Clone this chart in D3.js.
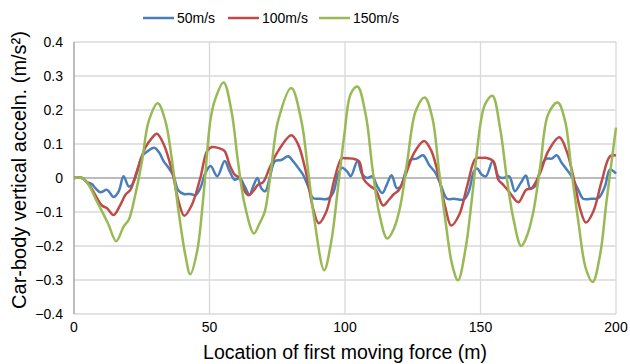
<!DOCTYPE html>
<html>
<head>
<meta charset="utf-8">
<script src="https://cdn.jsdelivr.net/npm/d3@7"></script>
<style>
  body { margin: 0; background: #fff; }
  text { font-family: "Liberation Sans", Arial, sans-serif; fill: #000; }
</style>
</head>
<body>
<svg width="630" height="364"></svg>
<script>
// series names and colours
var seriesNames = ["50m/s", "100m/s", "150m/s"];
var seriesColors = ["#4a7ebb", "#be4b48", "#98b954"];

// location (m) and acceleration (m/s^2) pairs
var v50 = [[0,0],[3,0],[4.8,-0.012],[6.6,-0.018],[7.9,-0.03],[9.7,-0.042],[12.2,-0.035],[14.6,-0.056],[16.5,-0.039],[18.3,0.005],[20.2,-0.025],[21.4,-0.02],[23.2,0.015],[25.1,0.064],[26.9,0.077],[29.6,0.089],[31.5,0.074],[33.1,0.049],[34.9,0.03],[36.8,0.005],[38.4,-0.035],[40.5,-0.047],[43,-0.047],[44.8,-0.051],[46.6,-0.03],[48.5,0.015],[50.4,0.035],[52.9,0.005],[55.6,0.05],[57.4,0.02],[59.3,-0.005],[61.1,0],[63,-0.025],[64.8,-0.049],[66.1,-0.025],[67.7,0],[69.1,-0.03],[70.6,-0.039],[72.2,0],[74.1,0.049],[76.5,0.053],[79,0.064],[80.9,0.049],[82.7,0.03],[84.5,0.01],[86.4,-0.025],[88.2,-0.059],[90.7,-0.061],[93.7,-0.061],[95.6,-0.044],[97.4,0.01],[98.9,0.03],[100.9,0.018],[102.1,0.005],[104.6,0.049],[106.4,0.01],[108.2,0],[110.1,0.005],[111.9,-0.025],[113.8,-0.044],[115.4,-0.02],[117.2,0.008],[119.1,-0.03],[120.5,-0.025],[122.4,0.02],[124.2,0.054],[126.4,0.057],[128.8,0.067],[131,0.039],[133.4,0.015],[135.3,-0.02],[137.7,-0.061],[140.2,-0.061],[143.9,-0.063],[145.7,-0.039],[147.6,0.02],[148.8,0.028],[150.4,0.01],[152,0.005],[154.5,0.049],[156.6,0.005],[158.4,0],[160.6,0.005],[162.7,-0.039],[164.8,-0.015],[166.8,0.007],[168.3,-0.03],[170.1,-0.025],[172.6,0.039],[174.4,0.057],[176.3,0.057],[178.1,0.067],[180,0.044],[181.8,0.025],[183.6,0.005],[186.1,-0.035],[187.9,-0.061],[191,-0.061],[193.5,-0.059],[195.9,-0.025],[197.8,0.025],[200,0.013]];

var v100 = [[0,0],[2.9,0],[6,-0.025],[8.5,-0.059],[10.3,-0.081],[12.2,-0.089],[14.6,-0.109],[17.1,-0.079],[19,-0.049],[20.8,-0.035],[23.2,0.02],[26.3,0.089],[28.8,0.118],[30.6,0.13],[33.1,0.099],[36.2,0.02],[38.6,-0.069],[40.7,-0.111],[43.5,-0.079],[46.6,0],[49.1,0.079],[50.9,0.091],[53.8,0.087],[55.6,0.079],[57.4,0.039],[59.3,0.01],[61.1,0],[63,-0.039],[64.5,-0.051],[66.1,-0.039],[67.9,-0.02],[69.8,-0.012],[72.2,0.03],[75.3,0.079],[80.2,0.126],[82.7,0.099],[85.8,0.01],[88.2,-0.089],[90.3,-0.133],[93.1,-0.099],[96.2,0],[98.7,0.057],[100.5,0.058],[102.7,0.057],[105.2,0.049],[107,-0.005],[109.5,-0.025],[111.3,-0.035],[114.1,-0.081],[116.2,-0.064],[118.1,-0.047],[119.9,-0.035],[122.4,0.01],[125.5,0.074],[129.2,0.109],[131.9,0.079],[134.7,0],[137.1,-0.089],[139.2,-0.14],[142.1,-0.109],[145.2,-0.02],[148.2,0.057],[150.7,0.059],[152.3,0.059],[154.8,0.049],[156.6,-0.005],[158.4,-0.02],[160.9,-0.044],[164,-0.071],[166.8,-0.035],[168.9,-0.03],[172,0.015],[175,0.079],[179.1,0.12],[181.8,0.079],[184.9,-0.02],[186.7,-0.089],[188.9,-0.131],[191.6,-0.099],[194.7,-0.01],[197.8,0.064],[200,0.066]];

var v150 = [[0,0],[3,0],[5.4,-0.02],[8.5,-0.07],[11.6,-0.118],[12.8,-0.138],[15.6,-0.186],[18.3,-0.143],[20.2,-0.123],[22.6,-0.05],[25.1,0.05],[27.6,0.168],[30.9,0.22],[33.7,0.168],[36.2,0.05],[38.6,-0.099],[41.1,-0.227],[42.9,-0.283],[45.4,-0.217],[47.8,-0.05],[50.3,0.168],[51.9,0.227],[55.2,0.281],[58.1,0.197],[60.5,0.049],[63,-0.079],[66.4,-0.163],[68.5,-0.133],[70.4,-0.099],[72.8,0.03],[75.3,0.168],[80.2,0.265],[83.9,0.168],[86.4,0.02],[88.8,-0.128],[92.3,-0.271],[94.9,-0.188],[97.4,-0.03],[99.8,0.13],[102.1,0.247],[104.6,0.269],[107.6,0.188],[110.1,0.03],[112.5,-0.099],[115.6,-0.178],[118.1,-0.148],[120.5,-0.079],[123,0.05],[126.1,0.197],[129.4,0.237],[132.2,0.178],[134.7,0.02],[137.1,-0.128],[139.6,-0.257],[141.7,-0.301],[144.5,-0.207],[147,-0.049],[150,0.16],[151.7,0.217],[154.4,0.242],[157.2,0.148],[159.7,0],[162.1,-0.118],[165,-0.2],[167,-0.173],[169.5,-0.099],[172,0.03],[175,0.188],[178.5,0.222],[181.2,0.168],[183.6,0.02],[186.1,-0.128],[188.9,-0.267],[191.4,-0.306],[194.1,-0.227],[196.5,-0.069],[200,0.148]];

var xTicks = [0, 50, 100, 150, 200];
var yTicks = [-0.4, -0.3, -0.2, -0.1, 0, 0.1, 0.2, 0.3, 0.4];

var svg = d3.select("svg");
var pLeft = 74, pRight = 616, pTop = 42, pBottom = 314;

var x = d3.scaleLinear().domain([0, 200]).range([pLeft, pRight]);
var y = d3.scaleLinear().domain([-0.4, 0.4]).range([pBottom, pTop]);

// gridlines
svg.append("g").selectAll("line")
    .data(yTicks.filter(function(d){ return d !== 0; }))
    .enter().append("line")
    .attr("x1", pLeft).attr("x2", pRight)
    .attr("y1", function(d){ return y(d); })
    .attr("y2", function(d){ return y(d); })
    .attr("stroke", "#d9d9d9").attr("stroke-width", 1.3);

svg.append("g").selectAll("line")
    .data(xTicks.slice(1))
    .enter().append("line")
    .attr("x1", function(d){ return x(d); })
    .attr("x2", function(d){ return x(d); })
    .attr("y1", pTop).attr("y2", pBottom)
    .attr("stroke", "#d9d9d9").attr("stroke-width", 1.3);

// axis lines
svg.append("line")
    .attr("x1", pLeft).attr("x2", pLeft).attr("y1", pTop).attr("y2", pBottom)
    .attr("stroke", "#a6a6a6").attr("stroke-width", 1.5);
svg.append("line")
    .attr("x1", pLeft).attr("x2", pRight).attr("y1", y(0)).attr("y2", y(0))
    .attr("stroke", "#a6a6a6").attr("stroke-width", 1.5);

// tick labels
svg.append("g").selectAll("text")
    .data(yTicks)
    .enter().append("text")
    .attr("x", pLeft - 11)
    .attr("y", function(d){ return y(d); })
    .attr("dy", "0.35em")
    .attr("text-anchor", "end")
    .style("font-size", "14px")
    .text(function(d){ return d === 0 ? "0" : d3.format(".1f")(d); });

svg.append("g").selectAll("text")
    .data(xTicks)
    .enter().append("text")
    .attr("x", function(d){ return x(d); })
    .attr("y", 332)
    .attr("text-anchor", "middle")
    .style("font-size", "14px")
    .text(function(d){ return d; });

// axis titles
svg.append("text")
    .attr("x", (pLeft + pRight) / 2).attr("y", 359)
    .attr("text-anchor", "middle")
    .style("font-size", "19.5px")
    .text("Location of first moving force (m)");

svg.append("text")
    .attr("transform", "translate(26,170) rotate(-90)")
    .attr("text-anchor", "middle")
    .style("font-size", "20px")
    .text("Car-body vertical acceln. (m/s²)");

// lines
var line = d3.line()
    .x(function(d){ return x(d[0]); })
    .y(function(d){ return y(d[1]); })
    .curve(d3.curveCatmullRom.alpha(0.5));

[v50, v100, v150].forEach(function(s, i){
    svg.append("path")
        .attr("d", line(s))
        .attr("fill", "none")
        .attr("stroke", seriesColors[i])
        .attr("stroke-width", 2.5)
        .attr("stroke-linejoin", "round");
});

// legend
var legendX = [143, 228, 319];
var legend = svg.append("g").selectAll("g")
    .data(seriesNames)
    .enter().append("g")
    .attr("transform", function(d, i){ return "translate(" + legendX[i] + ",18)"; });
legend.append("line")
    .attr("x1", 0).attr("x2", 31)
    .attr("stroke", function(d, i){ return seriesColors[i]; })
    .attr("stroke-width", 2.5);
legend.append("text")
    .attr("x", 34).attr("dy", "0.35em")
    .style("font-size", "14px")
    .text(function(d){ return d; });
</script>
</body>
</html>
